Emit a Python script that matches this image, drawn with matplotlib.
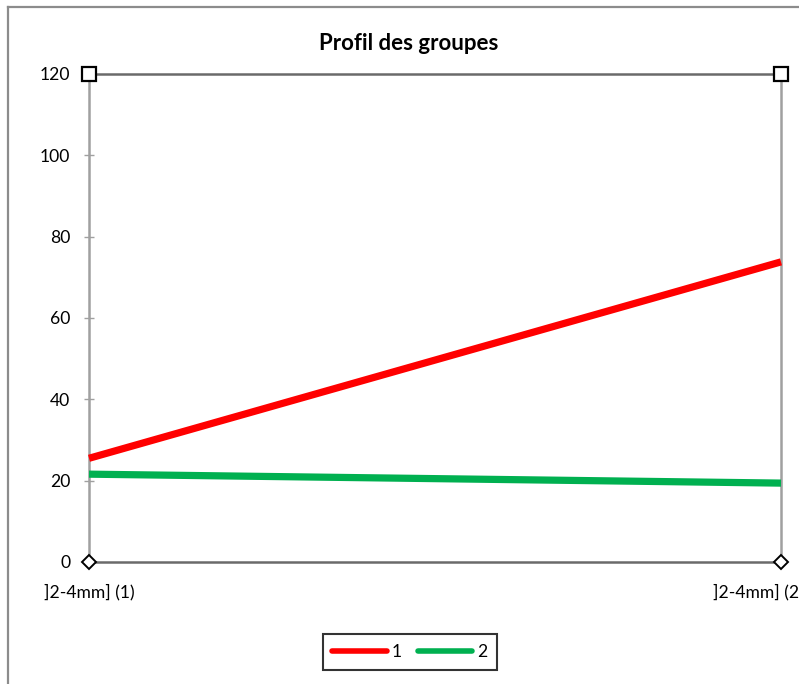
import matplotlib.pyplot as plt
from matplotlib.lines import Line2D
from matplotlib.transforms import ScaledTranslation

plt.rcParams['font.family'] = ['Lato', 'DejaVu Sans']

categories = [']2-4mm] (1)', ']2-4mm] (2)']
groupe_1 = [25.5, 73.8]
groupe_2 = [21.6, 19.4]
y_ticks = [0, 20, 40, 60, 80, 100, 120]

W, H = 799, 684
fig = plt.figure(figsize=(W / 100, H / 100), dpi=100)
ax = fig.add_axes([89 / W, 122 / H, (781 - 89) / W, (562 - 74) / H])

x = list(range(len(categories)))
ax.plot(x, groupe_1, color='#ff0000', lw=5.2, solid_capstyle='butt',
        label='1', clip_on=False, zorder=3)
ax.plot(x, groupe_2, color='#00b050', lw=5.2, solid_capstyle='butt',
        label='2', clip_on=False, zorder=3)

# corner markers of the hidden helper series
ax.plot(x, [120, 120], ls='none', marker='s', ms=9.5, mfc='white',
        mec='black', mew=1.6, clip_on=False, zorder=4)
ax.plot(x, [0, 0], ls='none', marker='D', ms=7.5, mfc='white',
        mec='black', mew=1.4, clip_on=False, zorder=4)

ax.set_xlim(0, 1)
ax.set_ylim(0, 120)
ax.set_xticks(x)
ax.set_xticklabels(categories, fontsize=12.6)
ax.set_yticks(y_ticks)
ax.set_yticklabels([str(v) for v in y_ticks], fontsize=12.6)
ax.tick_params(axis='x', length=0, pad=16)
ax.tick_params(axis='y', direction='inout', length=7, width=1,
               color='#a0a0a0', pad=10)

# last category label is pushed left towards the chart edge
last = ax.get_xticklabels()[-1]
last.set_transform(last.get_transform()
                   + ScaledTranslation(-23 / 100, 0, fig.dpi_scale_trans))

for side in ('left', 'right'):
    ax.spines[side].set_color('#a0a0a0')
    ax.spines[side].set_linewidth(1.8)
for side in ('top', 'bottom'):
    ax.spines[side].set_color('#6a6a6a')
    ax.spines[side].set_linewidth(1.8)

fig.text(409 / W, 1 - 43 / H, 'Profil des groupes', ha='center', va='center',
         fontsize=16, fontweight='bold')

leg = fig.legend(loc='center', bbox_to_anchor=(410 / W, 1 - 652 / H), ncol=2,
                 fontsize=12.6, frameon=True, fancybox=False, handlelength=3.1,
                 handletextpad=0.3, columnspacing=0.9, borderpad=0.55)
leg.get_frame().set_edgecolor('black')
leg.get_frame().set_linewidth(1.5)
for line in leg.get_lines():
    line.set_linewidth(4)
    line.set_solid_capstyle('round')

# outer chart border
fig.add_artist(Line2D([8 / W, 8 / W], [0, 1 - 7 / H], color='#8c8c8c', lw=1.6))
fig.add_artist(Line2D([8 / W, 1], [1 - 7 / H, 1 - 7 / H], color='#8c8c8c', lw=1.6))

fig.savefig('out.png', dpi=100)
